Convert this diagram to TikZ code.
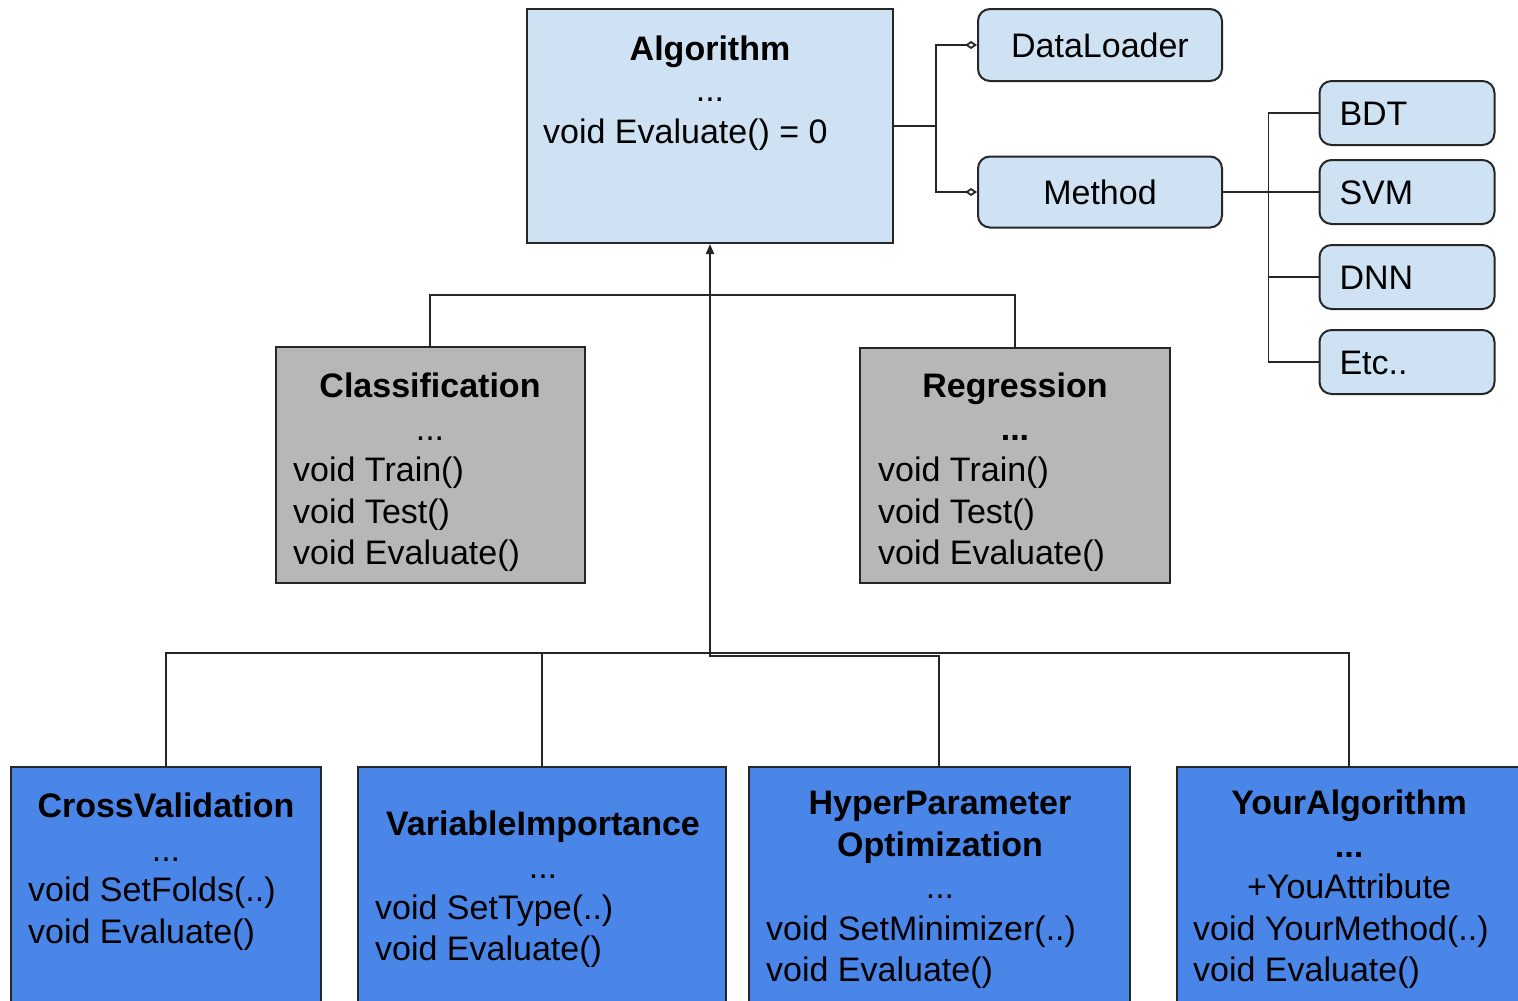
\documentclass[tikz,border=0pt]{standalone}
\usepackage{fontspec}
\setmainfont{Liberation Sans}
\usepackage{xcolor}
\usetikzlibrary{arrows.meta}

\definecolor{algblue}{HTML}{CFE2F3}
\definecolor{taskgrey}{HTML}{B7B7B7}
\definecolor{toolblue}{HTML}{4A86E8}
\definecolor{edgegrey}{HTML}{262626}

\tikzset{
  every node/.append style={font=\fontsize{34}{40}\selectfont},
  classbox/.style={draw=edgegrey, line width=2pt, inner sep=0pt},
  roundbox/.style={draw=edgegrey, line width=2pt, rounded corners=12pt, fill=algblue,
    text height=24pt, text depth=0pt},
  leafbox/.style={roundbox, minimum height=64pt, text width=135pt, inner xsep=20pt, align=left},
  ttl/.style={inner sep=0pt, anchor=base, font=\fontsize{34}{40}\selectfont\bfseries},
  dotline/.style={inner sep=0pt, anchor=base},
  member/.style={inner sep=0pt, anchor=base west},
  conn/.style={draw=edgegrey, line width=1.8pt},
}

\begin{document}
\begin{tikzpicture}[x=1pt, y=-1pt]
  \useasboundingbox (0, 0) rectangle (1518, 1001);
  \clip (0, 0) rectangle (1518, 1001);

  % base class and its parts
  \node (alg) [classbox, fill=algblue, minimum width=366pt, minimum height=234pt] at (710, 126) {};
  \node (loader) [roundbox, minimum width=244pt, minimum height=72pt] at (1100, 45) {DataLoader};
  \node (method) [roundbox, minimum width=244pt, minimum height=71pt] at (1100, 192) {Method};

  \node (bdt) [leafbox] at (1407, 113) {BDT};
  \node (svm) [leafbox] at (1407, 192) {SVM};
  \node (dnn) [leafbox] at (1407, 277) {DNN};
  \node (etc) [leafbox] at (1407, 362) {Etc..};

  % tasks
  \node (cls) [classbox, fill=taskgrey, minimum width=309pt, minimum height=236pt] at (430, 465) {};
  \node (reg) [classbox, fill=taskgrey, minimum width=310pt, minimum height=235pt] at (1015, 465) {};

  % tools
  \node (cv) [classbox, fill=toolblue, minimum width=310pt, minimum height=248pt] at (166, 891) {};
  \node (vi) [classbox, fill=toolblue, minimum width=368pt, minimum height=248pt] at (542, 891) {};
  \node (hpo) [classbox, fill=toolblue, minimum width=381pt, minimum height=248pt] at (939, 891) {};
  \node (yours) [classbox, fill=toolblue, minimum width=344pt, minimum height=248pt] at (1349, 891) {};

  % texts
  \node (alg-t) [ttl] at (710, 60) {Algorithm};
  \node (alg-d) [dotline] at (710, 101) {...};
  \node (alg-m) [member] at (543, 143) {void Evaluate() = 0};

  \node (cls-t) [ttl] at (430, 397) {Classification};
  \node (cls-d) [dotline] at (430, 440) {...};
  \node (cls-m1) [member] at (293, 481) {void Train()};
  \node (cls-m2) [member] at (293, 523) {void Test()};
  \node (cls-m3) [member] at (293, 564) {void Evaluate()};

  \node (reg-t) [ttl] at (1015, 397) {Regression};
  \node (reg-d) [ttl] at (1015, 440) {...};
  \node (reg-m1) [member] at (878, 481) {void Train()};
  \node (reg-m2) [member] at (878, 523) {void Test()};
  \node (reg-m3) [member] at (878, 564) {void Evaluate()};

  \node (cv-t) [ttl] at (166, 817) {CrossValidation};
  \node (cv-d) [dotline] at (166, 861) {...};
  \node (cv-m1) [member] at (28, 901) {void SetFolds(..)};
  \node (cv-m2) [member] at (28, 943) {void Evaluate()};

  \node (vi-t) [ttl] at (543, 835) {VariableImportance};
  \node (vi-d) [dotline] at (543, 878) {...};
  \node (vi-m1) [member] at (375, 919) {void SetType(..)};
  \node (vi-m2) [member] at (375, 960) {void Evaluate()};

  \node (hpo-t1) [ttl] at (940, 814) {HyperParameter};
  \node (hpo-t2) [ttl] at (940, 856) {Optimization};
  \node (hpo-d) [dotline] at (940, 898) {...};
  \node (hpo-m1) [member] at (766, 940) {void SetMinimizer(..)};
  \node (hpo-m2) [member] at (766, 981) {void Evaluate()};

  \node (yours-t) [ttl] at (1349, 814) {YourAlgorithm};
  \node (yours-d) [ttl] at (1349, 857) {...};
  \node (yours-a) [dotline] at (1349, 898) {+YouAttribute};
  \node (yours-m1) [member] at (1193, 940) {void YourMethod(..)};
  \node (yours-m2) [member] at (1193, 981) {void Evaluate()};

  % connectors
  \draw [conn] (alg.east) -- ++(42, 0) coordinate (split);
  \draw [conn, -{Diamond[open, length=12pt, width=8pt]}] (split) |- (loader.west);
  \draw [conn, -{Diamond[open, length=12pt, width=8pt]}] (split) |- (method.west);

  \draw [conn] (method.east) -- (svm.west);
  \draw [conn] (bdt.west) -- ++(-50, 0) |- (etc.west);
  \draw [conn] (dnn.west) -- ++(-50, 0);

  \draw [conn] (cls.north) -- ++(0, -51) -| (reg.north);

  \draw [conn] (cv.north) -- ++(0, -113) -| (yours.north);
  \draw [conn] (vi.north) -- ++(0, -113);
  \draw [conn, -{Triangle[length=10pt, width=8pt]}] (hpo.north) -- ++(0, -110) -| (alg.south);
\end{tikzpicture}
\end{document}
